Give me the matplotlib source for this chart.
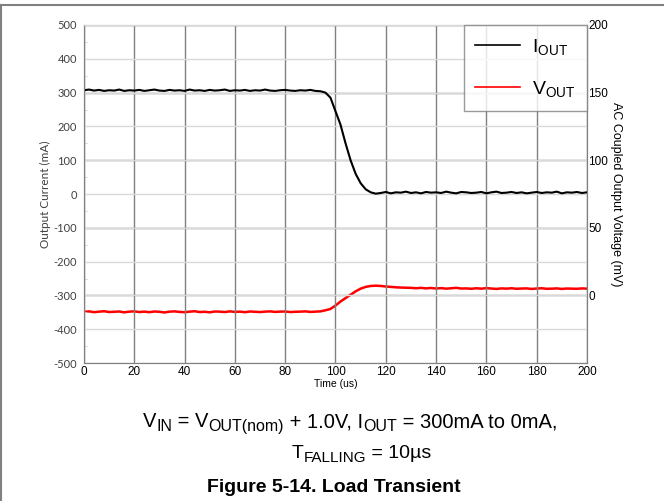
import numpy as np
import matplotlib
matplotlib.use("Agg")
import matplotlib.pyplot as plt
from matplotlib.lines import Line2D

plt.rcParams["font.family"] = ["Liberation Sans", "DejaVu Sans"]
plt.rcParams["axes.unicode_minus"] = False
plt.rcParams["mathtext.fontset"] = "custom"
plt.rcParams["mathtext.rm"] = "Liberation Sans"
plt.rcParams["mathtext.it"] = "Liberation Sans:italic"
plt.rcParams["mathtext.bf"] = "Liberation Sans:bold"

# scope capture, sampled every 2 us
time_us = np.arange(0, 201, 2)

iout_ma = [
    307, 309, 306, 308, 305, 307, 306, 309, 305, 307,
    306, 308, 305, 307, 309, 306, 305, 308, 306, 307,
    305, 309, 306, 307, 305, 308, 306, 307, 309, 305,
    307, 306, 308, 305, 307, 306, 309, 306, 305, 307,
    308, 306, 305, 307, 306, 308, 305, 304,
    300, 285, 245, 205, 150, 100, 60, 32, 14, 5, 1,
    3, 6, 2, 5, 4, 7, 3, 5, 2, 6,
    4, 5, 3, 7, 4, 2, 6, 5, 3, 4,
    6, 2, 5, 7, 3, 4, 6, 3, 5, 2,
    4, 6, 3, 5, 4, 7, 2, 5, 4, 6,
    3, 5,
]

vout_mv = [
    -12.2, -11.8, -12.4, -12.0, -11.7, -12.3, -12.1, -11.9, -12.5, -12.0,
    -11.8, -12.3, -12.0, -12.4, -11.9, -12.1, -12.6, -12.0, -11.8, -12.2,
    -12.4, -12.0, -11.7, -12.3, -12.1, -12.5, -11.9, -12.0, -12.3, -11.8,
    -12.2, -12.0, -12.4, -11.9, -12.1, -12.3, -12.0, -11.8, -12.2, -12.0,
    -11.9, -12.3, -12.1, -12.0, -11.8, -12.2, -12.0,
    -11.8, -11.0, -10.0, -7.5, -4.5, -2.0, 0.5, 3.0, 5.0, 6.3, 7.0, 7.2, 7.0,
    6.6, 6.3, 6.0, 5.8, 5.7, 5.6, 5.3, 5.6, 5.2, 5.5,
    5.1, 5.4, 5.0, 5.3, 5.6, 5.1, 5.2, 4.9, 5.3, 5.0,
    5.4, 5.1, 4.8, 5.2, 5.0, 5.3, 4.9, 5.1, 5.2, 4.8,
    5.1, 5.3, 4.9, 5.0, 5.2, 4.8, 5.1, 5.0, 4.9, 5.2,
    5.0,
]

x_ticks = np.arange(0, 201, 20)
left_ticks = np.arange(-500, 501, 100)
right_ticks = np.arange(0, 201, 50)


def draw_runs(fig, xc, y, runs, **kw):
    """Lay out (text, size, shift_px) pieces on one baseline, centred at xc."""
    r = fig.canvas.get_renderer()
    W, H = fig.bbox.width, fig.bbox.height
    texts = [fig.text(0, y + dy / H, s, fontsize=sz, va="baseline", **kw) for s, sz, dy in runs]
    widths = [t.get_window_extent(r).width for t in texts]
    x = xc * W - sum(widths) / 2
    for t, w in zip(texts, widths):
        t.set_x(x / W)
        x += w


fig = plt.figure(figsize=(6.64, 5.01), dpi=100)
ax = fig.add_axes([0.1265, 0.2754, 0.7575, 0.6747])
ax2 = ax.twinx()

# current axis sits on top so its trace covers the voltage grid
ax.set_zorder(ax2.get_zorder() + 1)
ax.patch.set_visible(False)

h_i, = ax.plot(time_us, iout_ma, color="black", lw=1.5, label=r"I$_{\mathrm{OUT}}$")
h_v, = ax2.plot(time_us, vout_mv, color="red", lw=1.8, label=r"V$_{\mathrm{OUT}}$")

ax.set_xlim(0, 200)
ax.set_ylim(-500, 500)
ax2.set_ylim(-50, 200)
ax.set_xticks(x_ticks)
ax.set_yticks(left_ticks)
ax.set_yticks(np.arange(-450, 500, 100), minor=True)
ax2.set_yticks(right_ticks)

ax.grid(axis="y", color="#d9d9d9", lw=1.0)
ax.grid(axis="x", color="#808080", lw=1.0)
ax2.grid(axis="y", color="#808080", lw=1.0)
ax.set_axisbelow(True)

for a in (ax, ax2):
    for s in a.spines.values():
        s.set_color("#808080")
ax.spines["top"].set_color("#d9d9d9")

ax.tick_params(axis="y", which="major", length=0, labelsize=8, labelcolor="#404040", pad=5)
ax.tick_params(axis="y", which="minor", length=2.5, direction="in", color="#c8c8c8")
ax.tick_params(axis="x", length=0, labelsize=8.5, pad=2)
ax2.tick_params(axis="y", length=0, labelsize=8.5, pad=1)
for lbl in ax.get_yticklabels():
    lbl.set_family("Lato")

ax.set_xlabel("Time (us)", fontsize=7.5, labelpad=1)
ax.set_ylabel("Output Current (mA)", fontsize=8.5, color="#404040", labelpad=2, family="Lato")
ax2.set_ylabel("AC Coupled Output Voltage (mV)", fontsize=9, rotation=270, labelpad=10)

leg = ax.legend(handles=[h_i, h_v], loc="upper right", fontsize=14, frameon=True,
                fancybox=False, borderaxespad=0, handlelength=2.3, handletextpad=0.6,
                labelspacing=1.15, borderpad=0.6)
leg.get_frame().set_edgecolor("#808080")
leg.get_frame().set_linewidth(1.0)
for line in leg.get_lines():
    line.set_linewidth(1.2)

main, sub, drop = 14.5, 11.5, -4
draw_runs(fig, 0.527, 0.1477, [
    ("V", main, 0), ("IN", sub, drop), (" = V", main, 0), ("OUT(nom)", sub, drop),
    (" + 1.0V, I", main, 0), ("OUT", sub, drop), (" = 300mA to 0mA,", main, 0),
])
draw_runs(fig, 0.545, 0.0858, [("T", 14, 0), ("FALLING", 11, drop), (" = 10µs", 14, 0)])
fig.text(0.502, 0.018, "Figure 5-14. Load Transient", ha="center", va="baseline",
         fontsize=14, fontweight="bold")

# page frame
fig.add_artist(Line2D([0, 1], [0.991, 0.991], transform=fig.transFigure, color="#808080", lw=1.5))
fig.add_artist(Line2D([0.0015, 0.0015], [0, 0.991], transform=fig.transFigure, color="#808080", lw=1.5))

fig.savefig("out.png", dpi=100)
